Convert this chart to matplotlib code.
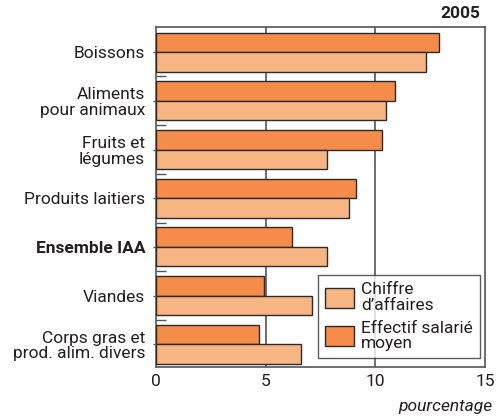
import matplotlib
matplotlib.use("Agg")
import matplotlib.pyplot as plt
import numpy as np

categories = ["Boissons", "Aliments\npour animaux", "Fruits et\nlégumes",
              "Produits laitiers", "Ensemble IAA", "Viandes",
              "Corps gras et\nprod. alim. divers"]
effectif = [12.9, 10.9, 10.3, 9.1, 6.2, 4.9, 4.7]
chiffre = [12.3, 10.5, 7.8, 8.8, 7.8, 7.1, 6.6]
xticks = [0, 5, 10, 15]
label_ca = "Chiffre\nd’affaires"
label_eff = "Effectif salarié\nmoyen"
year = "2005"
xlabel = "pourcentage"

plt.rcParams['font.family'] = ['Roboto', 'DejaVu Sans']
TXT = "#231F20"
DARK = "#F58C4A"
LIGHT = "#F8B584"
EDGE = "#2B2B2B"
FS = 12.5

fig = plt.figure(figsize=(5.03, 4.17), dpi=100)
ax = fig.add_axes([0.3107, 0.1206, 0.6535, 0.8139])

y = np.arange(len(categories))
h = 0.4
b_eff = ax.barh(y - h / 2, effectif, height=h, color=DARK, edgecolor=EDGE,
                linewidth=1.0, zorder=3, label=label_eff)
b_ca = ax.barh(y + h / 2, chiffre, height=h, color=LIGHT, edgecolor=EDGE,
               linewidth=1.0, zorder=3, label=label_ca)

ax.set_xlim(0, 15)
ax.set_ylim(6.46, -0.51)
for xv in (5, 10):
    ax.axvline(xv, color="#555555", lw=1.2, zorder=1)

ax.set_xticks(xticks)
ax.set_xticklabels([str(t) for t in xticks], fontsize=FS, color=TXT)
ax.tick_params(axis='x', length=0, pad=5)
ax.set_yticks(y)
ax.set_yticklabels(categories, fontsize=FS, color=TXT, linespacing=1.05)
ax.get_yticklabels()[4].set_fontweight('bold')
ax.tick_params(axis='y', which='major', length=2, width=1, color="#555555",
               pad=6, direction='out')
ax.set_yticks(np.arange(len(categories) - 1) + 0.5, minor=True)
ax.tick_params(axis='y', which='minor', length=7, width=1, color="#555555",
               direction='in')

for s in ax.spines.values():
    s.set_color("#555555")
    s.set_linewidth(1.2)

leg = ax.legend(handles=[b_ca, b_eff], labels=[label_ca, label_eff],
                loc='lower right', bbox_to_anchor=(0.985, 0.025),
                fontsize=FS, frameon=True, fancybox=False,
                handlelength=1.67, handleheight=1.38, labelspacing=0.45,
                handletextpad=0.4, borderpad=0.4, borderaxespad=0.0)
leg.get_frame().set_edgecolor("#333333")
leg.get_frame().set_linewidth(1.0)
for t in leg.get_texts():
    t.set_color(TXT)
    t.set_linespacing(1.05)

fig.text(480 / 503, 1 - 13 / 417, year, ha='right', va='center',
         fontsize=FS, fontweight='bold', color=TXT)
fig.text(492 / 503, 1 - 407 / 417, xlabel, ha='right', va='center',
         fontsize=FS, style='italic', color=TXT)

fig.savefig("out.png", dpi=100)
